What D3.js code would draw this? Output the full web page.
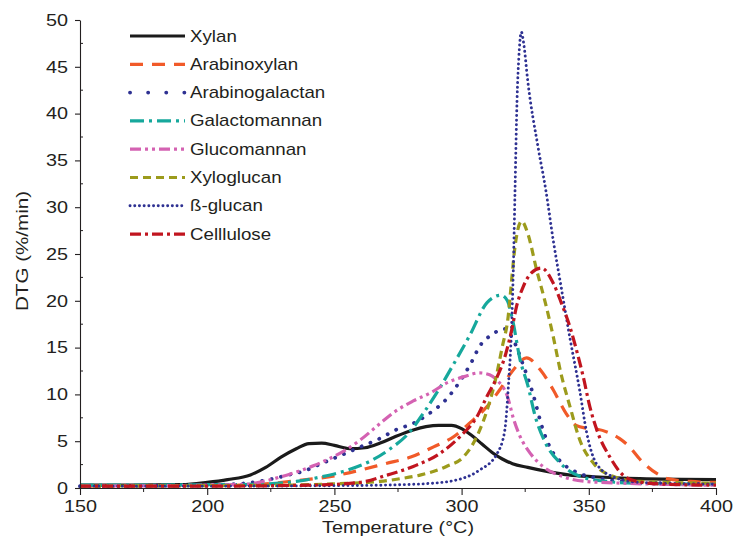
<!DOCTYPE html>
<html>
<head>
<meta charset="utf-8">
<script src="https://cdn.jsdelivr.net/npm/d3@7"></script>
<style>
  body { margin: 0; background: #fff; }
  text { font-family: "Liberation Sans", Arial, sans-serif; fill: #231f20; }
</style>
</head>
<body>
<div id="wrapper"></div>
<script>
// [temperature °C, DTG %/min]
const xylan = [[150,0.3],[170,0.3],[190,0.35],[200,0.6],[208,0.9],[217,1.4],[223,2.2],[229,3.3],[235,4.2],[240,4.75],[245,4.8],[250,4.55],[256,4.2],[262,4.3],[268,4.8],[274,5.5],[281,6.2],[286,6.55],[291,6.7],[296,6.7],[300,6.35],[304,5.6],[308,4.7],[312,3.8],[316,3.1],[320,2.6],[326,2.2],[333,1.8],[342,1.4],[352,1.2],[370,1.0],[400,0.9]]
const arabinoxylan = [[150,0.2],[200,0.25],[220,0.4],[236,0.8],[250,1.3],[260,1.9],[270,2.6],[280,3.3],[289,4.4],[297,5.5],[303,6.9],[310,8.7],[315,10.5],[320,12.5],[325.5,13.9],[331,12.6],[336,10.5],[341,8.0],[345,6.7],[349,6.4],[353,6.3],[358,5.9],[362,5.3],[366,4.4],[370,3.1],[373,2.3],[377,1.5],[381,1.0],[390,0.7],[400,0.6]]
const arabinogalactan = [[150,0.2],[200,0.3],[215,0.5],[226,1.0],[232,1.4],[238,1.8],[244,2.5],[250,3.2],[256,3.9],[262,4.6],[268,5.3],[274,6.2],[281,6.9],[288,8.1],[293,9.2],[301,12.1],[304,13.5],[307,15.1],[312,16.4],[317,17.0],[320,16.0],[324,13.3],[328,10.1],[332,6.2],[335,4.2],[339,2.8],[345,1.7],[355,1.0],[370,0.6],[400,0.4]]
const galactomannan = [[150,0.3],[200,0.35],[220,0.4],[235,0.7],[245,1.2],[255,1.9],[265,3.0],[272,4.2],[279,5.8],[285,8.0],[291,10.5],[297,13.3],[303,16.2],[310,19.8],[315.5,20.6],[318,20.0],[320,18.0],[323,13.7],[326,11.0],[329,7.6],[333,4.8],[339,2.6],[346,1.3],[357,0.7],[370,0.5],[400,0.4]]
const glucomannan = [[150,0.2],[200,0.3],[215,0.4],[222,0.7],[229,1.2],[236,1.8],[242,2.4],[247,3.0],[254,4.0],[260,5.1],[268,6.9],[274,8.2],[281,9.3],[288,10.2],[294,11.2],[301,11.9],[307,12.3],[311,12.1],[314,11.5],[318,9.8],[320.5,7.3],[323,5.5],[327,3.7],[332,2.3],[340,1.2],[349,0.7],[365,0.5],[400,0.3]]
const xyloglucan = [[150,0.2],[200,0.25],[230,0.3],[250,0.45],[268,0.7],[276,1.0],[284,1.4],[294,2.3],[301,3.4],[306,5.5],[310,8.3],[313,11.2],[316,15.1],[318.3,18.3],[319.8,22.6],[321,25.8],[323.6,28.5],[326,27.2],[329.5,23.3],[333,19.7],[336,16.2],[339,12.3],[342.6,8.7],[346.5,5.1],[352,2.6],[360,1.2],[370,0.7],[400,0.5]]
const betaGlucan = [[150,0.2],[200,0.2],[250,0.25],[268,0.3],[288,0.5],[300,1.0],[307,1.9],[314,3.7],[317,6.2],[318.3,10.5],[319.7,17.6],[320.3,23.0],[321,31.8],[321.8,41.5],[322.5,46.0],[323.5,48.7],[324.5,47.3],[326,43.5],[330,36.5],[333,32.0],[336,26.5],[339.3,21.2],[342.6,16.0],[346.5,10.3],[349.1,6.0],[353,2.6],[359.6,1.2],[370,0.6],[400,0.4]]
const cellulose = [[150,0.2],[200,0.2],[240,0.3],[260,0.6],[271,1.4],[281,2.3],[291.5,3.7],[299.4,5.5],[306,7.6],[310,9.8],[314,11.9],[317,14.0],[319.7,16.9],[321.6,19.4],[324.2,21.5],[327.5,23.0],[331.4,23.5],[336,21.9],[339.3,19.7],[342.6,17.2],[345.2,14.7],[347.8,11.9],[350.4,8.7],[353.7,5.8],[358.3,3.3],[362.3,1.7],[368.8,0.7],[380,0.4],[400,0.3]]

const seriesNames = ["Xylan", "Arabinoxylan", "Arabinogalactan", "Galactomannan", "Glucomannan", "Xyloglucan", "ß-glucan", "Celllulose"]
const seriesData = [xylan, arabinoxylan, arabinogalactan, galactomannan, glucomannan, xyloglucan, betaGlucan, cellulose]

const xTicks = [150, 200, 250, 300, 350, 400]
const xMinorTicks = [175, 225, 275, 325, 375]
const yTicks = [0, 5, 10, 15, 20, 25, 30, 35, 40, 45, 50]
const yMinorTicks = [2.5, 7.5, 12.5, 17.5, 22.5, 27.5, 32.5, 37.5, 42.5, 47.5]

// line looks, same order as seriesNames
const lineStyles = [
    {color: "#1b1b1b", width: 3.2, dash: null, cap: "butt"},
    {color: "#f15a29", width: 3.2, dash: "13,9", cap: "butt"},
    {color: "#2e3192", width: 3.8, dash: "0.1,9.5", cap: "round", legendDash: "0.1,18"},
    {color: "#16a89c", width: 3.2, dash: "14,5,3,5", cap: "butt"},
    {color: "#d462b2", width: 3.2, dash: "11,4,3,4,3,4", cap: "butt"},
    {color: "#9c9b1c", width: 3.2, dash: "8,5", cap: "butt"},
    {color: "#2e3192", width: 2.9, dash: "0.1,4.6", cap: "round"},
    {color: "#c1151f", width: 3.2, dash: "11,4,3,4", cap: "butt"},
]

function drawChart() {
    let dimensions = {
        width: 734,
        height: 546,
        margin: {top: 20, right: 18, bottom: 58, left: 80},
    }
    dimensions.boundedWidth = dimensions.width - dimensions.margin.left - dimensions.margin.right
    dimensions.boundedHeight = dimensions.height - dimensions.margin.top - dimensions.margin.bottom

    const wrapper = d3.select("#wrapper")
        .append("svg")
        .attr("width", dimensions.width)
        .attr("height", dimensions.height)

    const bounds = wrapper.append("g")
        .attr("transform", `translate(${dimensions.margin.left},${dimensions.margin.top})`)

    const xScale = d3.scaleLinear()
        .domain([150, 400])
        .range([0, dimensions.boundedWidth])
    const yScale = d3.scaleLinear()
        .domain([0, 50])
        .range([dimensions.boundedHeight, 0])

    const stretch = 1.2

    // lines
    const lineGen = d3.line()
        .x(d => xScale(d[0]))
        .y(d => yScale(d[1]))
        .curve(d3.curveMonotoneX)

    bounds.append("g")
        .selectAll("path")
        .data(seriesData)
        .join("path")
        .attr("d", lineGen)
        .attr("fill", "none")
        .attr("stroke", (d, i) => lineStyles[i].color)
        .attr("stroke-width", (d, i) => lineStyles[i].width)
        .attr("stroke-dasharray", (d, i) => lineStyles[i].dash)
        .attr("stroke-linecap", (d, i) => lineStyles[i].cap)
        .attr("stroke-linejoin", "round")

    // axes
    const xAxis = bounds.append("g")
        .attr("transform", `translate(0,${dimensions.boundedHeight})`)
        .call(d3.axisBottom(xScale).tickValues(xTicks).tickSize(7).tickSizeOuter(0).tickPadding(5))
    xAxis.append("g")
        .selectAll("line")
        .data(xMinorTicks)
        .join("line")
        .attr("x1", d => xScale(d))
        .attr("x2", d => xScale(d))
        .attr("y1", 0)
        .attr("y2", 4)
        .attr("stroke", "#231f20")

    const yAxis = bounds.append("g")
        .call(d3.axisLeft(yScale).tickValues(yTicks).tickSize(5).tickSizeOuter(0).tickPadding(8))
    yAxis.append("g")
        .selectAll("line")
        .data(yMinorTicks)
        .join("line")
        .attr("x1", 0)
        .attr("x2", 3)
        .attr("y1", d => yScale(d))
        .attr("y2", d => yScale(d))
        .attr("stroke", "#231f20")

    bounds.selectAll(".domain, .tick line").attr("stroke", "#231f20").attr("stroke-width", 1.1)
    bounds.selectAll(".tick text")
        .attr("font-size", 16.5)
        .attr("font-family", '"Liberation Sans", Arial, sans-serif')
        .attr("fill", "#231f20")
    xAxis.selectAll(".tick text").attr("transform", `scale(${stretch},1)`)
    yAxis.selectAll(".tick text")
        .attr("x", -12 / stretch)
        .attr("transform", `scale(${stretch},1)`)

    // axis titles
    bounds.append("text")
        .attr("transform", `translate(${dimensions.boundedWidth / 2},${dimensions.boundedHeight + 45}) scale(${stretch},1)`)
        .attr("text-anchor", "middle")
        .attr("font-size", 16.5)
        .text("Temperature (°C)")

    bounds.append("text")
        .attr("transform", `translate(-52,${dimensions.boundedHeight / 2 - 3}) rotate(-90) scale(${stretch + 0.05},1)`)
        .attr("text-anchor", "middle")
        .attr("font-size", 16.5)
        .text("DTG (%/min)")

    // legend
    const legend = wrapper.append("g")
        .attr("transform", "translate(130,36)")
    const rows = legend.selectAll("g")
        .data(seriesNames)
        .join("g")
        .attr("transform", (d, i) => `translate(0,${i * 28.3})`)
    rows.append("line")
        .attr("x1", 0)
        .attr("x2", 55)
        .attr("stroke", (d, i) => lineStyles[i].color)
        .attr("stroke-width", (d, i) => lineStyles[i].width)
        .attr("stroke-dasharray", (d, i) => lineStyles[i].legendDash || lineStyles[i].dash)
        .attr("stroke-linecap", (d, i) => lineStyles[i].cap)
    rows.append("text")
        .attr("transform", `translate(60,5.5) scale(1.17,1)`)
        .attr("font-size", 16)
        .text(d => d)
}

drawChart()
</script>
</body>
</html>
